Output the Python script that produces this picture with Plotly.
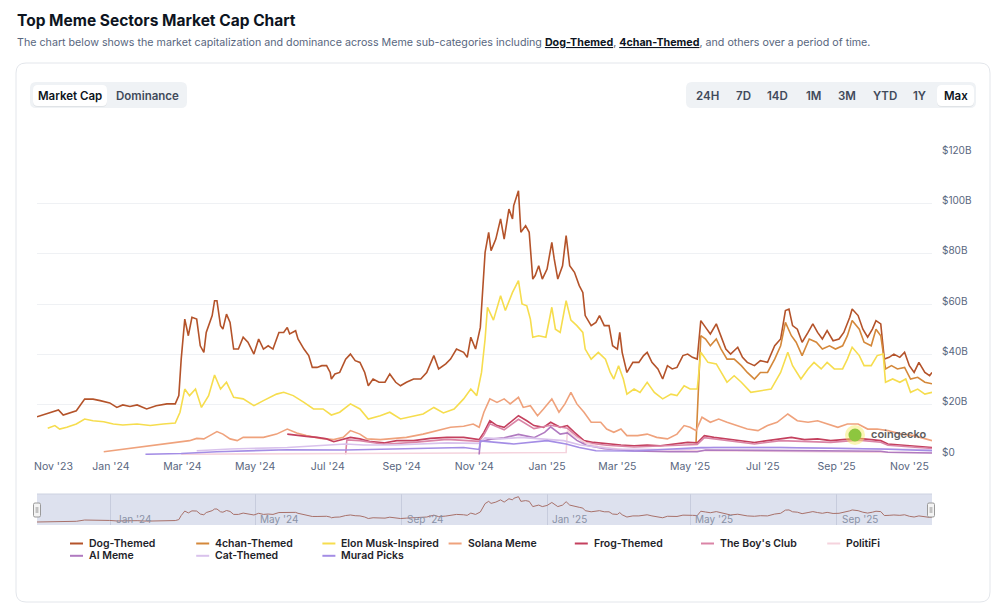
import plotly.graph_objects as go
import pandas as pd

START = pd.Timestamp("2023-11-01")

# ---------------- data: day offsets from 2023-11-01, market cap in $ billions ----------------
dog_days = [-1, 7, 13, 17, 21, 27, 32, 39, 46, 52, 60, 66, 71, 77, 83, 91, 99, 108, 115, 118,
            120, 123, 126, 129, 133, 136, 139, 141, 146, 148, 150, 153, 155, 158, 161, 164, 168, 172, 176, 181,
            185, 189, 193, 197, 202, 206, 209, 211, 216, 218, 223, 227, 230, 234, 238, 242, 245, 246, 249, 253,
            258, 262, 266, 270, 274, 277, 281, 286, 291, 295, 300, 304, 309, 315, 321, 326, 332, 336, 342, 346,
            351, 357, 360, 363, 367, 371,
            375, 378, 380, 384, 388, 391, 395, 398, 399, 403, 405, 409, 412, 415, 417, 420, 423, 427, 431, 433,
            436, 440, 443, 446, 450, 454, 457, 459, 464, 468, 471, 475, 479, 482, 486, 488, 490, 494, 499, 504,
            508, 511, 515, 520, 524, 528, 532, 536, 541, 545, 549, 553, 556, 560, 564, 569, 573, 577, 581, 587,
            591, 595, 601, 606, 612, 618, 623, 627, 630, 633, 637, 641, 646, 650, 654, 658, 662, 667, 672, 676,
            681, 683, 688, 692, 696, 700, 703, 707, 710, 714, 718, 723, 727, 731, 735, 739, 744, 748, 750]
dog_cap = [15.2, 16.3, 17.2, 17.9, 15.9, 17.0, 17.6, 22.2, 22.2, 21.6, 20.7, 18.9, 19.9, 19.3, 19.9, 18.3, 19.6, 20.3, 20.3, 23.6,
           38.1, 54.0, 47.4, 54.7, 54.0, 43.4, 40.8, 48.7, 55.4, 61.3, 61.3, 51.4, 50.0, 56.0, 52.7, 42.1, 42.1, 46.8, 44.8, 40.1,
           46.1, 42.1, 43.4, 42.1, 48.7, 48.7, 50.7, 48.1, 49.4, 46.1, 42.1, 39.5, 34.8, 34.8, 35.5, 35.5, 32.8, 30.2, 32.2, 32.8,
           38.1, 40.1, 37.5, 36.8, 32.8, 27.5, 30.2, 28.9, 28.9, 32.2, 28.9, 27.5, 28.9, 30.2, 30.2, 32.8, 39.5, 34.2, 36.2, 38.1,
           42.1, 40.8, 38.8, 46.8, 42.1, 50.7,
           80.5, 88.5, 81.2, 85.8, 93.8, 85.8, 97.7, 93.8, 99.1, 105.0, 88.5, 91.1, 88.5, 69.9, 71.3, 75.2, 69.9, 73.9, 84.5, 77.9,
           69.9, 75.2, 87.2, 75.2, 72.6, 67.3, 64.6, 55.4, 51.4, 52.7, 55.4, 51.4, 51.4, 43.4, 42.1, 48.7, 40.8, 32.8, 36.8, 36.8,
           39.5, 40.8, 36.8, 34.2, 30.2, 35.5, 34.2, 34.8, 39.5, 40.1, 38.8, 38.1, 53.4, 50.7, 48.1, 52.1, 47.4, 42.1, 40.1, 42.8,
           38.8, 36.8, 35.5, 37.5, 36.8, 43.4, 46.1, 57.4, 58.0, 51.4, 50.0, 44.8, 48.7, 52.1, 48.7, 46.1, 49.4, 45.4, 46.1, 48.7,
           54.7, 58.0, 55.4, 50.0, 46.8, 50.0, 53.4, 52.1, 38.1, 38.8, 40.1, 38.8, 40.8, 35.5, 32.8, 36.8, 32.8, 31.5, 32.8]

chan_days = [552, 556, 560, 564, 569, 573, 578, 584, 590, 595, 601, 606, 612, 618, 623, 627, 632, 636, 641, 647,
             653, 658, 664, 669, 675, 679, 683, 689, 693, 699, 703, 707, 711, 716, 721, 727, 732, 738, 744, 750]
chan_cap = [4.8, 47.4, 46.1, 43.4, 46.1, 42.1, 38.1, 38.1, 35.5, 32.8, 30.2, 32.8, 32.8, 38.1, 43.4, 52.7, 47.4, 44.8, 39.5, 46.1,
            44.8, 42.1, 43.4, 42.1, 43.4, 47.4, 53.4, 50.0, 44.8, 43.4, 50.0, 47.4, 34.2, 35.5, 34.2, 34.8, 30.2, 30.9, 28.9, 28.3]

elon_days = [8, 14, 18, 24, 32, 39, 46, 55, 63, 71, 83, 94, 105, 115, 119, 123, 127, 132, 137, 143,
             148, 153, 158, 164, 172, 181, 189, 200, 206, 214, 223, 231, 239, 246, 253, 262, 270, 277, 287, 295,
             304, 315, 323, 332, 340, 349, 357, 363, 368, 372, 375, 377, 382, 388, 392, 398, 403, 406, 410, 413,
             415, 420, 426, 431, 434, 438, 443, 447, 452, 457, 459, 464, 470, 476, 480, 483, 487, 491, 494, 500,
             505, 511, 517, 524, 531, 536, 542, 547, 553, 556, 562, 569, 573, 578, 584, 590, 598, 606, 615, 623,
             629, 633, 640, 646, 651, 657, 662, 668, 675, 679, 683, 689, 693, 699, 704, 709, 711, 717, 723, 728,
             732, 738, 744, 750]
elon_cap = [10.6, 11.7, 10.3, 11.0, 12.3, 14.3, 13.6, 13.2, 12.3, 11.9, 12.3, 11.7, 12.3, 12.7, 17.0, 26.2, 23.6, 26.2, 18.9, 23.6,
            31.8, 26.2, 28.9, 22.9, 22.3, 19.6, 21.6, 24.2, 24.9, 23.6, 20.9, 18.3, 18.3, 15.9, 17.0, 20.3, 18.3, 14.3, 15.6, 17.0,
            14.3, 15.6, 16.3, 18.9, 16.7, 18.3, 22.3, 26.2, 23.6, 32.8, 46.1, 58.7, 53.6, 63.3, 57.4, 64.6, 69.3, 60.0, 59.3, 54.0,
            46.8, 47.4, 46.8, 58.7, 50.0, 48.7, 61.3, 53.6, 51.4, 48.7, 42.1, 38.1, 40.8, 38.1, 32.8, 30.2, 35.5, 30.2, 24.2, 26.2,
            24.9, 28.9, 24.9, 22.3, 24.2, 23.6, 27.5, 26.2, 26.2, 40.8, 36.8, 36.2, 32.8, 28.9, 31.5, 28.9, 24.9, 25.6, 26.2, 32.8,
            40.8, 35.5, 30.2, 34.2, 36.8, 34.2, 36.8, 34.2, 34.2, 38.1, 42.8, 39.5, 35.5, 35.5, 39.5, 40.1, 28.9, 30.2, 28.9, 30.2,
            24.9, 26.2, 24.2, 24.9]

sol_days = [55, 122, 127, 133, 139, 144, 150, 155, 161, 167, 172, 178, 189, 200, 209, 217, 225, 237, 248, 256,
            262, 270, 276, 287, 298, 309, 323, 335, 346, 357, 365, 370, 374, 379, 385, 391, 396, 403, 407, 413,
            419, 424, 431, 437, 442, 447, 452, 458, 464, 472, 477, 483, 489, 494, 503, 511, 519, 528, 536, 542,
            547, 552, 557, 564, 571, 578, 587, 595, 604, 612, 620, 629, 637, 646, 654, 662, 671, 679, 688, 696,
            704, 713, 724, 735, 744, 750]
sol_cap = [1.3, 5.3, 5.7, 6.6, 6.4, 7.7, 9.3, 8.3, 6.4, 5.7, 7.0, 7.0, 7.0, 8.3, 10.3, 8.7, 7.7, 6.6, 6.1, 7.0,
           9.7, 8.3, 6.4, 6.1, 6.4, 7.0, 8.3, 9.7, 11.0, 11.4, 12.3, 11.0, 17.0, 22.3, 20.9, 22.3, 20.3, 22.9, 18.9, 19.6,
           15.6, 18.3, 22.3, 17.0, 20.3, 24.9, 20.3, 17.0, 13.0, 13.0, 10.3, 9.0, 10.3, 7.7, 7.7, 8.3, 7.0, 6.4, 8.3, 11.7,
           11.0, 9.7, 15.0, 13.0, 14.3, 13.0, 11.7, 10.3, 9.7, 11.7, 13.0, 16.3, 13.6, 13.0, 13.6, 12.3, 11.0, 12.3, 12.3, 10.3,
           10.3, 9.7, 8.3, 7.7, 6.4, 5.7]

frog_days = [209, 217, 225, 234, 242, 248, 256, 262, 270, 279, 290, 301, 315, 329, 343, 357, 370, 374, 379, 385,
             391, 396, 403, 410, 416, 424, 430, 438, 444, 450, 458, 466, 477, 489, 500, 511, 522, 534, 545, 553,
             559, 567, 578, 590, 601, 612, 623, 632, 643, 654, 665, 676, 688, 699, 707, 713, 724, 735, 750]
frog_cap = [8.3, 7.7, 7.4, 7.0, 6.4, 5.3, 6.4, 7.0, 6.4, 5.3, 4.8, 5.7, 5.7, 6.6, 7.0, 7.0, 6.1, 9.0, 13.6, 11.7,
            11.0, 13.0, 15.6, 13.6, 11.7, 11.0, 13.0, 11.0, 11.7, 9.0, 5.7, 5.0, 4.4, 4.0, 3.7, 4.0, 3.7, 4.4, 5.0, 4.8,
            7.7, 7.0, 6.4, 5.7, 5.0, 5.7, 6.4, 7.0, 6.1, 6.4, 5.7, 6.1, 6.6, 6.1, 5.7, 4.4, 4.0, 3.4, 3.0]

boys_days = [258, 259, 270, 290, 315, 343, 370, 374, 379, 391, 403, 416, 430, 444, 458, 477, 500, 534, 553, 559,
             578, 601, 623, 643, 665, 688, 707, 713, 735, 750]
boys_cap = [0.3, 6.0, 5.7, 4.3, 5.0, 6.2, 5.4, 8.0, 12.4, 10.0, 14.2, 10.5, 11.8, 10.6, 5.0, 3.9, 3.2, 3.8, 4.2, 6.9,
            5.7, 4.4, 5.7, 5.4, 5.0, 5.9, 5.1, 3.9, 3.0, 2.6]

politi_days = [120, 180, 260, 370, 420, 443, 444, 447, 452, 460, 470, 490, 520, 560, 620, 680, 720, 750]
politi_cap = [0.3, 0.5, 0.6, 0.8, 0.9, 1.0, 9.6, 8.6, 6.8, 4.8, 3.4, 2.2, 1.6, 1.7, 1.5, 1.4, 1.1, 0.9]

ai_days = [370, 371, 380, 391, 403, 416, 425, 430, 438, 444, 452, 460, 475, 500, 530, 553, 560, 600, 640, 680,
           707, 713, 750]
ai_cap = [0.2, 5.3, 6.3, 6.8, 8.2, 6.9, 9.0, 11.2, 8.3, 8.8, 5.8, 3.9, 2.5, 1.6, 1.3, 1.3, 2.0, 1.8, 1.9, 1.7,
          1.5, 1.1, 0.8]

cat_days = [133, 161, 209, 258, 273, 300, 343, 370, 375, 388, 405, 427, 441, 455, 483, 540, 567, 623, 707, 750]
cat_cap = [1.7, 2.4, 3.0, 4.4, 4.0, 4.0, 4.8, 4.6, 6.8, 6.4, 7.0, 6.1, 5.7, 4.0, 2.4, 2.1, 3.0, 3.0, 2.6, 2.1]

murad_days = [90, 120, 150, 209, 258, 300, 357, 370, 371, 399, 427, 443, 454, 468, 500, 556, 623, 679, 707, 750]
murad_cap = [0.3, 0.6, 1.3, 2.1, 2.0, 2.4, 3.0, 2.2, 5.6, 4.4, 5.7, 4.4, 3.0, 1.7, 1.6, 3.0, 3.0, 2.6, 2.4, 1.7]

y_ticks = [0, 20, 40, 60, 80, 100, 120]
y_tick_text = ["$0", "$20B", "$40B", "$60B", "$80B", "$100B", "$120B"]
range_buttons = ["24H", "7D", "14D", "1M", "3M", "YTD", "1Y", "Max"]
view_buttons = ["Market Cap", "Dominance"]

series = [
    ("Dog-Themed", dog_days, dog_cap, "#B4532A"),
    ("4chan-Themed", chan_days, chan_cap, "#D4883A"),
    ("Elon Musk-Inspired", elon_days, elon_cap, "#F6DD4E"),
    ("Solana Meme", sol_days, sol_cap, "#EFA27C"),
    ("Frog-Themed", frog_days, frog_cap, "#C4405E"),
    ("The Boy's Club", boys_days, boys_cap, "#DA84A6"),
    ("PolitiFi", politi_days, politi_cap, "#F5D3DD"),
    ("AI Meme", ai_days, ai_cap, "#B07AC0"),
    ("Cat-Themed", cat_days, cat_cap, "#D9C2EC"),
    ("Murad Picks", murad_days, murad_cap, "#A48DE5"),
]

# ---------------- geometry helpers (pixel -> paper) ----------------
W, H = 1000, 610
ML, MR, MT, MB = 37, 68, 153, 85
PW, PH = W - ML - MR, H - MT - MB


def PX(x):
    return (x - ML) / PW


def PY(y):
    return (H - MB - y) / PH


def rrect(x0, y0, x1, y1, r):
    return (f"M {PX(x0 + r)},{PY(y0)} L {PX(x1 - r)},{PY(y0)} Q {PX(x1)},{PY(y0)} {PX(x1)},{PY(y0 + r)} "
            f"L {PX(x1)},{PY(y1 - r)} Q {PX(x1)},{PY(y1)} {PX(x1 - r)},{PY(y1)} "
            f"L {PX(x0 + r)},{PY(y1)} Q {PX(x0)},{PY(y1)} {PX(x0)},{PY(y1 - r)} "
            f"L {PX(x0)},{PY(y0 + r)} Q {PX(x0)},{PY(y0)} {PX(x0 + r)},{PY(y0)} Z")


FONT = "Inter, Noto Sans, sans-serif"

fig = go.Figure()


def to_dates(days):
    return START + pd.to_timedelta(days, unit="D")


for name, days, vals, color in series:
    fig.add_trace(go.Scatter(x=to_dates(days), y=vals, mode="lines", name=name,
                             line=dict(color=color, width=1.6), showlegend=False,
                             xaxis="x", yaxis="y"))

# navigator series
fig.add_trace(go.Scatter(x=to_dates(dog_days), y=dog_cap, mode="lines", name="Dog-Themed (navigator)",
                         line=dict(color="#A8716A", width=1), showlegend=False,
                         xaxis="x2", yaxis="y2", hoverinfo="skip"))

x_range = [START - pd.Timedelta(days=1), START + pd.Timedelta(days=750)]
main_ticks = pd.date_range("2024-01-01", "2025-11-01", freq="2MS")
nav_ticks = pd.date_range("2024-01-01", "2025-09-01", freq="4MS")

nav_top, nav_bot = 494, 525

fig.update_layout(
    width=W, height=H,
    margin=dict(l=ML, r=MR, t=MT, b=MB, pad=0),
    paper_bgcolor="white", plot_bgcolor="rgba(0,0,0,0)",
    font=dict(family=FONT, color="#58667E"),
    showlegend=False,
    xaxis=dict(type="date", range=x_range, domain=[0, 1], anchor="y",
               showgrid=False, zeroline=False, showline=False, ticks="",
               tickvals=main_ticks, tickformat="%b '%y", ticklabelstandoff=3,
               tickfont=dict(size=10.5, color="#58667E", family=FONT)),
    yaxis=dict(domain=[PY(455), 1], range=[0, 120], side="right", anchor="x",
               tickvals=y_ticks, ticktext=y_tick_text, showgrid=True, gridcolor="#EFF1F4",
               gridwidth=1, zeroline=False, showline=False, ticks="", ticklabelstandoff=9,
               ticklabelshift=-3,
               tickfont=dict(size=10, color="#58667E", family=FONT)),
    xaxis2=dict(type="date", range=x_range, domain=[0, 1], anchor="y2",
                showgrid=True, gridcolor="#C7CCDD", zeroline=False, showline=False, ticks="",
                tickvals=nav_ticks, showticklabels=False),
    yaxis2=dict(domain=[0, PY(nav_top)], range=[4.5, 114.6], visible=False, anchor="x2"),
)

shapes = []
# card
shapes.append(dict(type="path", xref="paper", yref="paper", path=rrect(16, 63, 990, 602, 10),
                   line=dict(color="#E3E6EB", width=1), fillcolor="rgba(0,0,0,0)", layer="below"))
# navigator background
shapes.append(dict(type="rect", xref="paper", yref="paper", x0=PX(37), x1=PX(932), y0=PY(nav_bot), y1=PY(nav_top),
                   fillcolor="#DDE1EE", line=dict(width=0), layer="below"))
shapes.append(dict(type="line", xref="paper", yref="paper", x0=PX(37), x1=PX(932), y0=PY(nav_top), y1=PY(nav_top),
                   line=dict(color="#CDD2E0", width=1)))
# navigator handles
for hx in (37, 931):
    shapes.append(dict(type="path", xref="paper", yref="paper", path=rrect(hx - 3.5, 503, hx + 3.5, 517, 1.5),
                       fillcolor="#F4F4F4", line=dict(color="#9A9A9A", width=1)))
    shapes.append(dict(type="line", xref="paper", yref="paper", x0=PX(hx - 0.8), x1=PX(hx - 0.8), y0=PY(507), y1=PY(513),
                       line=dict(color="#9A9A9A", width=0.8)))
    shapes.append(dict(type="line", xref="paper", yref="paper", x0=PX(hx + 0.8), x1=PX(hx + 0.8), y0=PY(507), y1=PY(513),
                       line=dict(color="#9A9A9A", width=0.8)))

# button groups
shapes.append(dict(type="path", xref="paper", yref="paper", path=rrect(30, 82, 187, 108, 6),
                   fillcolor="#EFF2F5", line=dict(width=0), layer="below"))
shapes.append(dict(type="path", xref="paper", yref="paper", path=rrect(33, 86, 107, 107, 5),
                   fillcolor="rgba(0,0,0,0.06)", line=dict(width=0), layer="below"))
shapes.append(dict(type="path", xref="paper", yref="paper", path=rrect(33, 85, 107, 106, 5),
                   fillcolor="#FFFFFF", line=dict(width=0), layer="below"))
shapes.append(dict(type="path", xref="paper", yref="paper", path=rrect(686, 82, 976, 108, 6),
                   fillcolor="#EFF2F5", line=dict(width=0), layer="below"))
shapes.append(dict(type="path", xref="paper", yref="paper", path=rrect(937, 86, 974, 107, 5),
                   fillcolor="rgba(0,0,0,0.06)", line=dict(width=0), layer="below"))
shapes.append(dict(type="path", xref="paper", yref="paper", path=rrect(937, 85, 974, 106, 5),
                   fillcolor="#FFFFFF", line=dict(width=0), layer="below"))

# watermark logo
shapes.append(dict(type="circle", xref="paper", yref="paper", x0=PX(845), x1=PX(865), y0=PY(445), y1=PY(425),
                   fillcolor="rgba(246,232,90,0.45)", line=dict(width=0)))
shapes.append(dict(type="circle", xref="paper", yref="paper", x0=PX(848.5), x1=PX(861.5), y0=PY(441.5), y1=PY(428.5),
                   fillcolor="#8DC63F", line=dict(width=0)))

annotations = []
# title + subtitle
annotations.append(dict(xref="paper", yref="paper", x=PX(15), y=PY(20), xanchor="left", yanchor="middle",
                        text="<b>Top Meme Sectors Market Cap Chart</b>", showarrow=False,
                        font=dict(size=15.5, color="#0D1421", family=FONT)))
annotations.append(dict(xref="paper", yref="paper", x=PX(15), y=PY(42), xanchor="left", yanchor="middle",
                        text=("The chart below shows the market capitalization and dominance across Meme sub-categories including "
                              "<span style='color:#0D1421'><b><u>Dog-Themed</u></b></span>, "
                              "<span style='color:#0D1421'><b><u>4chan-Themed</u></b></span>, and others over a period of time."),
                        showarrow=False, font=dict(size=10.7, color="#58667E", family=FONT)))
# view buttons
for label, cx, col in zip(view_buttons, (70, 147.5), ("#0D1421", "#414A5B")):
    annotations.append(dict(xref="paper", yref="paper", x=PX(cx), y=PY(96), xanchor="center", yanchor="middle",
                            text=label, showarrow=False,
                            font=dict(size=11.5, color=col, family=FONT, weight=600)))
# range buttons
for label, cx in zip(range_buttons, (707, 743, 777.5, 813, 846.5, 885, 919.5, 955.5)):
    annotations.append(dict(xref="paper", yref="paper", x=PX(cx), y=PY(96), xanchor="center", yanchor="middle",
                            text=label, showarrow=False,
                            font=dict(size=11.5, color="#0D1421" if label == "Max" else "#414A5B", family=FONT, weight=600)))
# first x label (shifted inside as in the reference)
annotations.append(dict(xref="paper", yref="paper", x=PX(53), y=PY(466), xanchor="center", yanchor="middle",
                        text="Nov '23", showarrow=False, font=dict(size=10.5, color="#58667E", family=FONT)))
# navigator labels (left aligned next to their grid line)
for t in nav_ticks:
    annotations.append(dict(xref="x2", yref="paper", x=t, y=PY(519), xanchor="left", yanchor="middle", xshift=3,
                            text=t.strftime("%b '%y"), showarrow=False,
                            font=dict(size=10, color="#8A92A6", family=FONT)))
# watermark text
annotations.append(dict(xref="paper", yref="paper", x=PX(869), y=PY(434), xanchor="left", yanchor="middle",
                        text="coingecko", showarrow=False, font=dict(size=11, color="#5E5E5E", family=FONT, weight=600)))

# custom legend (7 columns, 2 rows)
for i, (name, _d, _v, color) in enumerate(series):
    row, col = divmod(i, 7)
    lx = 70 + 126.2 * col
    ly = 543.5 + 12.3 * row
    shapes.append(dict(type="line", xref="paper", yref="paper", x0=PX(lx), x1=PX(lx + 13), y0=PY(ly), y1=PY(ly),
                       line=dict(color=color, width=2)))
    annotations.append(dict(xref="paper", yref="paper", x=PX(lx + 17), y=PY(ly), xanchor="left", yanchor="middle",
                            text=name, showarrow=False,
                            font=dict(size=10.5, color="#1E2329", family=FONT, weight=600)))

fig.update_layout(shapes=shapes, annotations=annotations)

fig.write_html("out.html", config={"displayModeBar": False},
               post_script="document.body.style.margin='0px';")
